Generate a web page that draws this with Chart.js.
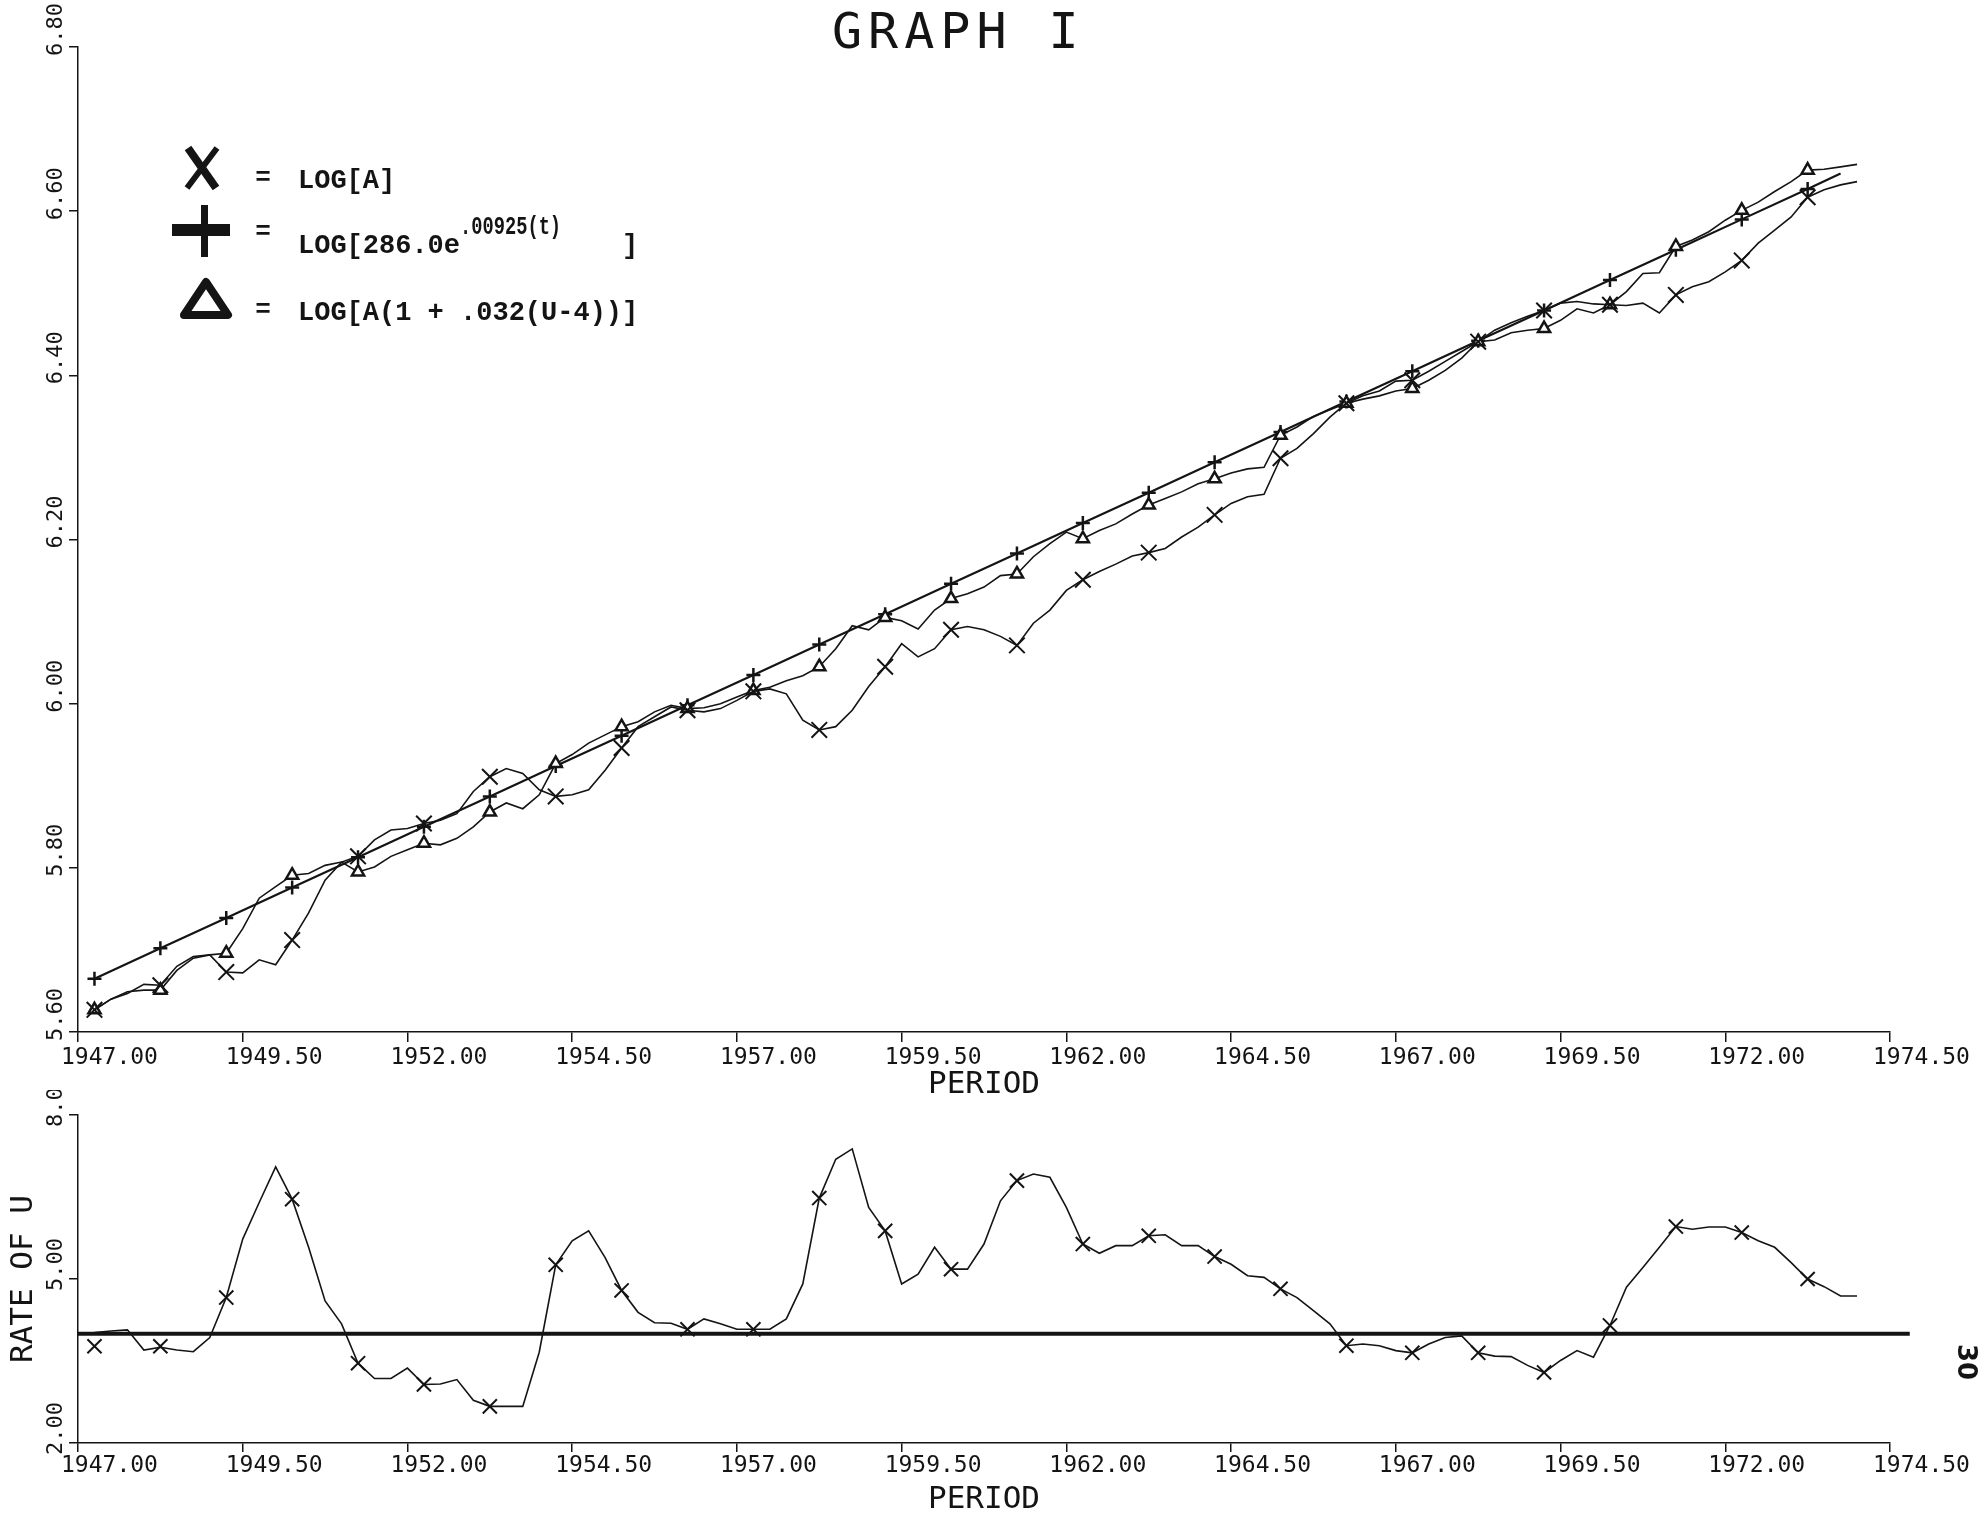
<!DOCTYPE html>
<html>
<head>
<meta charset="utf-8">
<script src="https://cdn.jsdelivr.net/npm/chart.js@4/dist/chart.umd.min.js"></script>
<style>
  html, body { margin: 0; padding: 0; background: #ffffff; width: 1984px; height: 1515px; overflow: hidden; }
  #topWrap { position: absolute; left: 0; top: 0; width: 1984px; height: 1100px; }
  #botWrap { position: absolute; left: 0; top: 1090px; width: 1984px; height: 425px; }
  canvas { display: block; }
</style>
</head>
<body>
<div id="topWrap"><canvas id="topChart" width="1984" height="1100"></canvas></div>
<div id="botWrap"><canvas id="botChart" width="1984" height="425"></canvas></div>
<script>
// ---------------- data ----------------
const titleText = 'GRAPH I';
const xAxisTitle = 'PERIOD';
const rateAxisTitle = 'RATE OF U';
const pageNumber = '30';

const xMin = 1947.0, xMax = 1974.5, xStep = 2.5;
const topYMin = 5.6, topYMax = 6.8, topYStep = 0.2;
const botYMin = 2.0, botYMax = 8.0, botYStep = 3.0;

const legendLabels = ['LOG[A]', 'LOG[286.0e', '.00925(t)', ']', 'LOG[A(1 + .032(U-4))]'];

// quarterly series, first quarter 1947.25
const quarterStep = 0.25;
const seriesStart = 1947.25;
const logA = [
  5.627, 5.640, 5.647, 5.658, 5.657, 5.680, 5.692, 5.694, 5.673, 5.672,
  5.688, 5.682, 5.712, 5.745, 5.785, 5.807, 5.814, 5.834, 5.846, 5.848,
  5.854, 5.858, 5.866, 5.893, 5.911, 5.921, 5.915, 5.895, 5.887, 5.889,
  5.895, 5.919, 5.946, 5.972, 5.984, 5.996, 5.992, 5.990, 5.994, 6.004,
  6.015, 6.018, 6.012, 5.980, 5.968, 5.972, 5.992, 6.021, 6.045, 6.073,
  6.057, 6.067, 6.090, 6.094, 6.090, 6.082, 6.071, 6.098, 6.114, 6.138,
  6.151, 6.161, 6.170, 6.180, 6.184, 6.189, 6.203, 6.215, 6.230, 6.244,
  6.252, 6.255, 6.299, 6.311, 6.329, 6.349, 6.366, 6.375, 6.381, 6.393,
  6.394, 6.405, 6.417, 6.429, 6.441, 6.455, 6.464, 6.472, 6.479, 6.488,
  6.490, 6.487, 6.486, 6.485, 6.488, 6.476, 6.498, 6.508, 6.514, 6.526,
  6.540, 6.561, 6.577, 6.593, 6.617, 6.626, 6.632, 6.636
];
const logAdj = [
  5.627, 5.640, 5.649, 5.651, 5.651, 5.675, 5.690, 5.694, 5.696, 5.726,
  5.763, 5.777, 5.791, 5.793, 5.803, 5.807, 5.795, 5.801, 5.814, 5.822,
  5.830, 5.828, 5.836, 5.850, 5.868, 5.879, 5.872, 5.889, 5.927, 5.938,
  5.952, 5.962, 5.972, 5.978, 5.990, 5.998, 5.994, 5.995, 6.000, 6.008,
  6.016, 6.020, 6.028, 6.034, 6.045, 6.067, 6.095, 6.090, 6.105, 6.101,
  6.091, 6.114, 6.128, 6.134, 6.142, 6.156, 6.158, 6.179, 6.195, 6.209,
  6.201, 6.211, 6.219, 6.231, 6.242, 6.250, 6.258, 6.268, 6.274, 6.281,
  6.286, 6.288, 6.327, 6.337, 6.350, 6.358, 6.366, 6.371, 6.375, 6.381,
  6.384, 6.394, 6.406, 6.421, 6.441, 6.443, 6.452, 6.455, 6.457, 6.467,
  6.481, 6.476, 6.486, 6.502, 6.524, 6.525, 6.557, 6.565, 6.575, 6.589,
  6.601, 6.611, 6.624, 6.636, 6.650, 6.651, 6.654, 6.657
];
const trendYears = [
  1947.25, 1948.25, 1949.25, 1950.25, 1951.25, 1952.25, 1953.25, 1954.25, 1955.25, 1956.25,
  1957.25, 1958.25, 1959.25, 1960.25, 1961.25, 1962.25, 1963.25, 1964.25, 1965.25, 1966.25,
  1967.25, 1968.25, 1969.25, 1970.25, 1971.25, 1972.25, 1973.25, 1973.75
];
const trendVals = [
  5.665, 5.702, 5.739, 5.776, 5.813, 5.850, 5.887, 5.924, 5.961, 5.998,
  6.035, 6.072, 6.109, 6.146, 6.183, 6.220, 6.257, 6.294, 6.331, 6.368,
  6.405, 6.442, 6.479, 6.516, 6.553, 6.590, 6.627, 6.646
];

// lower panel: rate of U, quarterly from 1947.00
const rateStart = 1947.0;
const rateU = [
  4.00, 4.02, 4.05, 4.07, 3.70, 3.75, 3.70, 3.67, 3.93, 4.66,
  5.73, 6.40, 7.05, 6.46, 5.58, 4.60, 4.18, 3.46, 3.18, 3.18,
  3.37, 3.07, 3.08, 3.16, 2.78, 2.67, 2.67, 2.67, 3.66, 5.26,
  5.70, 5.88, 5.39, 4.79, 4.39, 4.20, 4.19, 4.08, 4.27, 4.18,
  4.08, 4.08, 4.08, 4.27, 4.91, 6.48, 7.19, 7.38, 6.31, 5.88,
  4.91, 5.09, 5.58, 5.18, 5.18, 5.64, 6.43, 6.80, 6.92, 6.86,
  6.31, 5.64, 5.47, 5.61, 5.61, 5.79, 5.81, 5.61, 5.61, 5.41,
  5.27, 5.06, 5.03, 4.82, 4.66, 4.42, 4.18, 3.78, 3.81, 3.78,
  3.69, 3.65, 3.81, 3.93, 3.96, 3.65, 3.59, 3.58, 3.42, 3.29,
  3.51, 3.69, 3.57, 4.15, 4.85, 5.21, 5.58, 5.96, 5.91, 5.95,
  5.95, 5.85, 5.70, 5.58, 5.30, 5.00, 4.86, 4.69, 4.69
];
const rateMarkYears = [
  1947.25, 1948.25, 1949.25, 1950.25, 1951.25, 1952.25, 1953.25, 1954.25, 1955.25, 1956.25,
  1957.25, 1958.25, 1959.25, 1960.25, 1961.25, 1962.25, 1963.25, 1964.25, 1965.25, 1966.25,
  1967.25, 1968.25, 1969.25, 1970.25, 1971.25, 1972.25, 1973.25
];
const rateMarkVals = [
  3.77, 3.77, 4.66, 6.46, 3.46, 3.07, 2.67, 5.26, 4.79, 4.08,
  4.08, 6.48, 5.88, 5.18, 6.80, 5.64, 5.79, 5.41, 4.82, 3.78,
  3.65, 3.65, 3.29, 4.15, 5.96, 5.85, 5.00
];
const threshYears = [1947.0, 1974.8];
const threshVals = [4.0, 4.0];

// ---------------- styling ----------------
const ink = '#141414';
const monoFont = '"DejaVu Sans Mono", "Liberation Mono", monospace';

const toPts = (arr, start, step) => arr.map((v, i) => ({ x: start + i * step, y: v }));
const zipPts = (xs, ys) => xs.map((x, i) => ({ x: x, y: ys[i] }));

function xScale(heightPx, tickLen, pad) {
  return {
    type: 'linear', min: xMin, max: xMax,
    border: { display: true, color: ink, width: 1.5 },
    grid: { display: true, drawOnChartArea: false, drawTicks: true, tickLength: tickLen, color: ink, lineWidth: 1.5 },
    ticks: {
      stepSize: xStep, autoSkip: false, maxTicksLimit: 40, maxRotation: 0, minRotation: 0,
      align: 'start', labelOffset: -17, padding: pad, color: ink,
      font: { family: monoFont, size: 23 },
      callback: (v) => Number(v).toFixed(2)
    },
    title: { display: true, text: xAxisTitle, color: ink, font: { family: monoFont, size: 31, lineHeight: 1 }, padding: { top: 0, bottom: 0 } },
    afterFit: (s) => { s.height = heightPx; s.paddingLeft = 0; s.paddingRight = 0; }
  };
}
function yScale(min, max, step, title) {
  const cfg = {
    type: 'linear', min: min, max: max,
    border: { display: true, color: ink, width: 1.5 },
    grid: { display: true, drawOnChartArea: false, drawTicks: true, tickLength: 9, color: ink, lineWidth: 1.5 },
    ticks: { stepSize: step, display: false, maxTicksLimit: 40 },
    afterFit: (s) => { s.width = 78; s.paddingTop = 0; s.paddingBottom = 0; }
  };
  if (title) {
    cfg.title = { display: true, text: title, color: ink, font: { family: monoFont, size: 31, lineHeight: 1 }, padding: { top: 8, bottom: 0 } };
  }
  return cfg;
}

// rotated y tick labels (reading bottom-to-top as in the plot)
function yLabelPlugin(id, below) {
  return {
    id: id,
    afterDraw(chart) {
      const s = chart.scales.y;
      const ctx = chart.ctx;
      ctx.save();
      ctx.fillStyle = ink;
      ctx.font = '22px ' + monoFont;
      ctx.textAlign = 'left';
      ctx.textBaseline = 'middle';
      s.ticks.forEach(t => {
        const y = s.getPixelForValue(t.value);
        ctx.save();
        ctx.translate(56, y + below);
        ctx.rotate(-Math.PI / 2);
        ctx.fillText(Number(t.value).toFixed(2), 0, 0);
        ctx.restore();
      });
      ctx.restore();
    }
  };
}

const topDecor = {
  id: 'topDecor',
  afterDraw(chart) {
    const ctx = chart.ctx;
    ctx.save();
    ctx.fillStyle = ink;
    ctx.strokeStyle = ink;
    // title
    ctx.font = '50px ' + monoFont;
    ctx.letterSpacing = '6px';
    ctx.textAlign = 'left';
    ctx.textBaseline = 'alphabetic';
    ctx.fillText(titleText, 832, 48);
    ctx.letterSpacing = '0px';

    // legend symbols
    ctx.lineCap = 'butt';
    ctx.lineJoin = 'round';
    ctx.lineWidth = 8;
    ctx.beginPath();
    ctx.moveTo(188, 148); ctx.lineTo(216, 188);
    ctx.stroke();
    ctx.lineWidth = 6;
    ctx.beginPath();
    ctx.moveTo(217, 148); ctx.lineTo(187, 188);
    ctx.stroke();
    ctx.fillRect(172, 224, 58, 12);
    ctx.fillRect(201, 205, 7, 52);
    ctx.lineWidth = 8;
    ctx.beginPath();
    ctx.moveTo(206, 282); ctx.lineTo(228, 315); ctx.lineTo(184, 315); ctx.closePath();
    ctx.stroke();

    // "=" signs
    ctx.font = 'bold 26px "Liberation Mono", monospace';
    ctx.textAlign = 'center';
    ctx.textBaseline = 'middle';
    ctx.fillText('=', 263, 178);
    ctx.fillText('=', 263, 232);
    ctx.fillText('=', 263, 310);

    // legend texts
    ctx.textAlign = 'left';
    ctx.textBaseline = 'alphabetic';
    ctx.font = 'bold 27px "Liberation Mono", monospace';
    ctx.fillText(legendLabels[0], 298, 188);
    ctx.fillText(legendLabels[1], 298, 253);
    ctx.fillText(legendLabels[3], 622, 253);
    ctx.fillText(legendLabels[4], 298, 320);
    // superscript: taller, condensed glyphs
    ctx.save();
    ctx.translate(460, 234);
    ctx.scale(0.72, 1);
    ctx.font = 'bold 26px "Liberation Mono", monospace';
    ctx.fillText(legendLabels[2], 0, 0);
    ctx.restore();
    ctx.restore();
  }
};

const botDecor = {
  id: 'botDecor',
  afterDraw(chart) {
    const ctx = chart.ctx;
    ctx.save();
    ctx.fillStyle = ink;
    ctx.font = 'bold 26px "DejaVu Sans", sans-serif';
    ctx.textAlign = 'center';
    ctx.textBaseline = 'middle';
    ctx.translate(1965, 272);
    ctx.rotate(Math.PI / 2);
    ctx.fillText(pageNumber, 0, 0);
    ctx.restore();
  }
};

Chart.defaults.font.family = monoFont;
Chart.defaults.color = ink;

new Chart(document.getElementById('topChart'), {
  type: 'line',
  data: {
    datasets: [
      {
        label: 'LOG[A]',
        data: toPts(logA, seriesStart, quarterStep),
        borderColor: ink, borderWidth: 1.6, fill: false, tension: 0,
        pointStyle: 'crossRot',
        pointRadius: (c) => (c.dataIndex % 4 === 0 ? 11 : 0),
        pointBorderColor: ink, pointBorderWidth: 2, pointBackgroundColor: ink
      },
      {
        label: 'LOG[A(1 + .032(U-4))]',
        data: toPts(logAdj, seriesStart, quarterStep),
        borderColor: ink, borderWidth: 1.6, fill: false, tension: 0,
        pointStyle: 'triangle',
        pointRadius: (c) => (c.dataIndex % 4 === 0 ? 7 : 0),
        pointBorderColor: ink, pointBorderWidth: 2.5, pointBackgroundColor: '#ffffff'
      },
      {
        label: 'LOG[286.0e.00925(t)]',
        data: zipPts(trendYears, trendVals),
        borderColor: ink, borderWidth: 2.2, fill: false, tension: 0,
        pointStyle: 'cross',
        pointRadius: (c) => (c.dataIndex < trendYears.length - 1 ? 7 : 0),
        pointBorderColor: ink, pointBorderWidth: 2.5
      }
    ]
  },
  options: {
    responsive: false, animation: false,
    layout: { padding: { left: 0, right: 94, top: 47, bottom: 0 } },
    plugins: { legend: { display: false }, tooltip: { enabled: false }, title: { display: false } },
    scales: {
      x: xScale(68, 10, 2),
      y: yScale(topYMin, topYMax, topYStep, null)
    }
  },
  plugins: [yLabelPlugin('topYLabels', 9), topDecor]
});

new Chart(document.getElementById('botChart'), {
  type: 'line',
  data: {
    datasets: [
      {
        label: 'U = 4',
        data: zipPts(threshYears, threshVals),
        borderColor: ink, borderWidth: 4, fill: false, pointRadius: 0, tension: 0,
        clip: false
      },
      {
        label: 'RATE OF U',
        data: toPts(rateU, rateStart, quarterStep),
        borderColor: ink, borderWidth: 1.6, fill: false, pointRadius: 0, tension: 0
      },
      {
        label: 'RATE OF U markers',
        data: zipPts(rateMarkYears, rateMarkVals),
        showLine: false,
        pointStyle: 'crossRot', pointRadius: 10,
        pointBorderColor: ink, pointBorderWidth: 2, pointBackgroundColor: ink
      }
    ]
  },
  options: {
    responsive: false, animation: false,
    layout: { padding: { left: 0, right: 94, top: 25, bottom: 0 } },
    plugins: { legend: { display: false }, tooltip: { enabled: false } },
    scales: {
      x: xScale(72, 9, 0),
      y: yScale(botYMin, botYMax, botYStep, rateAxisTitle)
    }
  },
  plugins: [yLabelPlugin('botYLabels', 12), botDecor]
});
</script>
</body>
</html>
